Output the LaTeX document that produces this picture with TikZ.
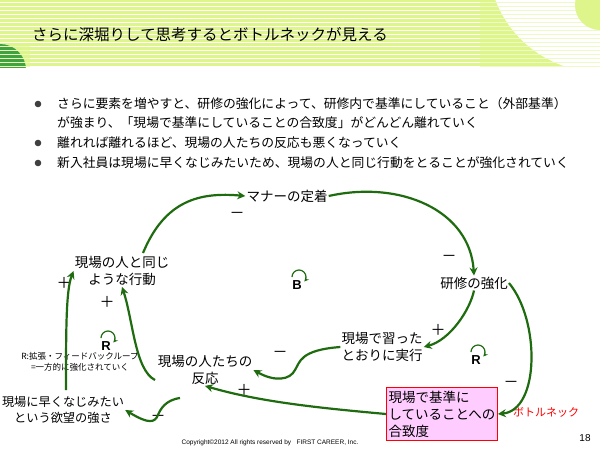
\documentclass[tikz,border=0pt]{standalone}
\usepackage{fontspec}
\setmainfont{Noto Sans CJK JP}
\setsansfont{Liberation Sans}
\usetikzlibrary{arrows.meta}
\definecolor{band}{HTML}{DDF58A}
\definecolor{dgreen}{HTML}{1E6B10}
\definecolor{lgreen}{HTML}{3FA33F}
\definecolor{pinkf}{HTML}{FFCCFF}
\tikzset{
 lbl/.style={font=\fontsize{13.5}{17}\selectfont, align=center, inner sep=1pt},
 sgn/.style={font=\fontsize{15}{15}\selectfont, inner sep=0pt},
 con/.style={draw=dgreen, line width=2.2pt, -{Stealth[length=8pt,width=8pt]}},
 loopl/.style={font=\sffamily\bfseries\fontsize{13}{13}\selectfont, inner sep=0pt},
 larc/.style={dgreen, line width=1.2pt, -{Stealth[length=4.5pt,width=4.5pt]}},
 bul/.style={font=\fontsize{12.8}{15}\selectfont, anchor=west, inner sep=0pt}
}
\begin{document}
\begin{tikzpicture}[x=1pt,y=-1pt]
\useasboundingbox (0,0) rectangle (600,451);
% header
\fill[band] (0,0) rectangle (600,67);
\foreach \y in {2,6,...,66} \draw[white, line width=0.7pt] (0,\y) -- (600,\y);
\begin{scope}
\clip (0,0) rectangle (600,67);
\fill[white] (600,-40) circle (112);
\foreach \y in {2,6,...,66} \draw[band!50, line width=0.7pt] (480,\y) -- (600,\y);
\fill[band] (600,5) circle (25);
\fill[lgreen] (0,70) circle (26);
\foreach \y in {46,50,...,66} \draw[band!60, line width=0.6pt] (0,\y) -- (30,\y);
\end{scope}
\node[anchor=west, font=\fontsize{15.5}{16}\selectfont, inner sep=0pt] (title) at (32,35) {さらに深堀りして思考するとボトルネックが見える};
% bullets
\foreach \y/\n in {104/b1,143/b2,163/b3} \fill[black!75] (38,\y) circle (3.3);
\node[bul] (t1) at (57,104) {さらに要素を増やすと、研修の強化によって、研修内で基準にしていること（外部基準）};
\node[bul] (t1b) at (57,123) {が強まり、「現場で基準にしていることの合致度」がどんどん離れていく};
\node[bul] (t2) at (57,143) {離れれば離れるほど、現場の人たちの反応も悪くなっていく};
\node[bul] (t3) at (57,163) {新入社員は現場に早くなじみたいため、現場の人と同じ行動をとることが強化されていく};
% nodes
\node[lbl] (manner) at (287,196) {マナーの定着};
\node[lbl] (kenshu) at (474,283) {研修の強化};
\node[lbl] (onaji) at (122,271) {現場の人と同じ\\ような行動};
\node[lbl] (naratta) at (382,347) {現場で習った\\とおりに実行};
\node[lbl] (hanno) at (205,370) {現場の人たちの\\反応};
\node[lbl, font=\fontsize{12.2}{16}\selectfont] (yokubo) at (63,410) {現場に早くなじみたい\\という欲望の強さ};
\node[lbl, draw=red, fill=pinkf, line width=0.8pt, align=left, minimum width=111pt, minimum height=53pt] (kijun) at (442,414) {現場で基準に\\していることへの\\合致度};
\node[font=\fontsize{11}{12}\selectfont, text=red] (bn) at (546,412) {ボトルネック};
\node[font=\fontsize{8.5}{11}\selectfont, align=center] (rnote) at (80,362) {R:拡張・フィードバックループ\\=一方的に強化されていく};
% loop labels
\node[loopl] (B) at (297,285) {B};
\draw[larc] (292,277) arc (180:400:7);
\node[loopl] (R1) at (106,346) {R};
\draw[larc] (101,338) arc (180:400:7);
\node[loopl] (R2) at (476,360) {R};
\draw[larc] (471,352) arc (180:400:7);
% signs
\node[sgn] (s1) at (237,215) {－};
\node[sgn] (s2) at (449,258) {－};
\node[sgn] (s3) at (64,283) {＋};
\node[sgn] (s4) at (107,302) {＋};
\node[sgn] (s5) at (438,330) {＋};
\node[sgn] (s6) at (280,354) {－};
\node[sgn] (s7) at (244,390) {＋};
\node[sgn] (s8) at (511,384) {－};
\node[sgn] (s9) at (158,418) {－};
% connectors
\draw[con] (143,253) .. controls (165,200) and (200,192) .. (manner.west);
\draw[con] (manner.east) .. controls (400,180) and (470,210) .. (kenshu.north);
\draw[con] (kenshu.south) .. controls (470,310) and (450,340) .. (naratta.east);
\draw[con] (naratta.west) .. controls (300,350) and (300,362) .. (295,370) .. controls (290,380) and (275,382) .. (hanno.east);
\draw[con] (155,380) .. controls (135,370) and (133,320) .. (onaji.south);
\draw[con] (180,398) .. controls (165,400) and (160,410) .. (158,415) .. controls (155,422) and (150,425) .. (yokubo.east);
\draw[con] (66,390) .. controls (66,330) and (66,290) .. (onaji.west);
\draw[con] (kijun.west) .. controls (320,408) and (260,402) .. (hanno.south);
\draw[con] (kenshu.east) .. controls (540,320) and (540,410) .. (kijun.east);
% footer
\node[font=\sffamily\fontsize{6.5}{7}\selectfont] (copy) at (270,443) {Copyright©2012 All rights reserved by \ \ FIRST CAREER, Inc.};
\node[font=\sffamily\fontsize{10}{10}\selectfont] (pg) at (585,438) {18};
\end{tikzpicture}
\end{document}
